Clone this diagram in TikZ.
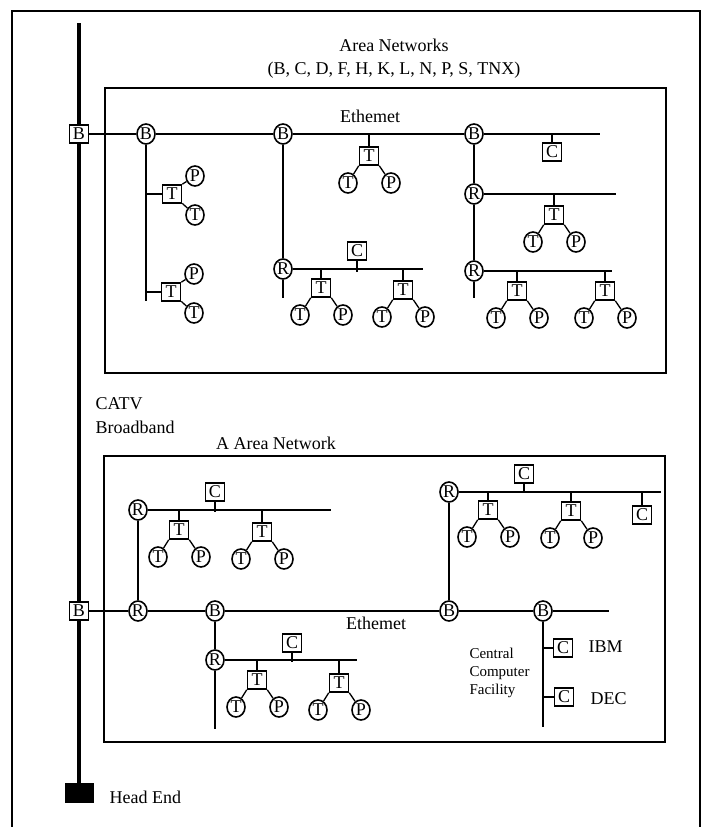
\documentclass[tikz,border=0pt]{standalone}
\usepackage{fontspec}
\setmainfont{Liberation Serif}
\usetikzlibrary{shapes.geometric}

\begin{document}
\begin{tikzpicture}[x=1pt,y=-1pt,
		font=\fontsize{18}{21}\selectfont,
		wire/.style={line width=1.3pt},
		frame/.style={line width=1.4pt},
		sq/.style={draw, line width=1.6pt, fill=white, inner sep=0pt, minimum width=19pt, minimum height=18pt},
		rnd/.style={draw, ellipse, line width=1.6pt, fill=white, inner sep=0pt, minimum width=18pt, minimum height=20pt}]
	\useasboundingbox (0,0) rectangle (713,827);
	\draw[frame] (12,827) -- (12,11) -- (700,11) -- (700,827);
	\draw[frame] (105,88) rectangle (666,373);
	\draw[frame] (104,456) rectangle (665,742);

	% broadband backbone
	\node[fill=black, inner sep=0pt, minimum width=29pt, minimum height=20pt] (head) at (79,793) {};
	\coordinate (top) at (79,23);
	\draw[line width=4pt] (top) -- (head);
	\node[anchor=west] (headlbl) at (106,797) {Head End};
	\node[anchor=west] (catv) at (92,404) {CATV};
	\node[anchor=west] (bband) at (92,427) {Broadband};

	% area networks
	\node (title) at (394,45) {Area Networks};
	\node (members) at (394,70) {(B, C, D, F, H, K, L, N, P, S, TNX)};
	\node (eth1) at (370,116) {Ethemet};
	\node[sq] (bb1) at (79,134) {B};
	\node[rnd] (b1) at (146,134) {B};
	\node[rnd] (b2) at (283,134) {B};
	\node[rnd] (b3) at (474,134) {B};
	\coordinate (e1) at (600,134);
	\draw[wire] (bb1) -- (b1) -- (b2) -- (b3) -- (e1);
	\coordinate (v1) at (146,301);
	\draw[wire] (b1) -- (v1);
	\node[rnd] (r1) at (283,269) {R};
	\coordinate (v2) at (283,298);
	\coordinate (e2) at (423,269);
	\draw[wire] (b2) -- (r1) -- (v2);
	\draw[wire] (r1) -- (e2);
	\node[sq] (c1) at (357,251) {C};
	\draw[wire] (c1.south) -- ([yshift=-3pt]c1.south |- r1);
	\node[rnd] (r2) at (474,194) {R};
	\node[rnd] (r3) at (474,271) {R};
	\coordinate (v3) at (474,298);
	\coordinate (e3) at (616,194);
	\coordinate (e4) at (612,271);
	\draw[wire] (b3) -- (r2) -- (r3) -- (v3);
	\draw[wire] (r2) -- (e3);
	\draw[wire] (r3) -- (e4);
	\node[sq] (c2) at (552,152) {C};
	\draw[wire] (c2.north) -- (c2.north |- b3);

	% side terminals
	\foreach \n/\x/\y in {13/172/194, 14/171/292} {
		\node[sq] (tb\n) at (\x,\y) {T};
		\node[rnd] (tp\n) at (\x+23,\y-18) {P};
		\node[rnd] (tt\n) at (\x+23,\y+21) {T};
		\draw[wire] (tb\n.west) -- (tb\n.west -| b1);
		\draw[wire] (tb\n.north east) -- (tp\n);
		\draw[wire] (tb\n) -- (tt\n);
	}

	% A area network
	\node (aname) at (276,443) {A Area Network};
	\node (eth2) at (376,623) {Ethemet};
	\node[sq] (bb2) at (79,611) {B};
	\node[rnd] (r4) at (138,611) {R};
	\node[rnd] (b4) at (215,611) {B};
	\node[rnd] (b5) at (449,611) {B};
	\node[rnd] (b6) at (543,611) {B};
	\coordinate (e5) at (609,611);
	\draw[wire] (bb2) -- (r4) -- (b4) -- (b5) -- (b6) -- (e5);
	\node[rnd] (r5) at (138,510) {R};
	\coordinate (e6) at (331,510);
	\draw[wire] (r4) -- (r5) -- (e6);
	\node[sq] (c3) at (215,492) {C};
	\draw[wire] (c3.south) -- ([yshift=-2pt]c3.south |- r5);
	\node[rnd] (r6) at (215,660) {R};
	\coordinate (v4) at (215,729);
	\coordinate (e7) at (357,660);
	\draw[wire] (b4) -- (r6) -- (v4);
	\draw[wire] (r6) -- (e7);
	\node[sq] (c4) at (292,643) {C};
	\draw[wire] (c4.south) -- ([yshift=-2pt]c4.south |- r6);
	\node[rnd] (r7) at (449,492) {R};
	\coordinate (e8) at (661,492);
	\draw[wire] (b5) -- (r7) -- (e8);
	\node[sq] (c5) at (524,474) {C};
	\draw[wire] (c5.south) -- (c5.south |- r7);
	\node[sq] (c6) at (642,515) {C};
	\draw[wire] (c6.north) -- (c6.north |- r7);

	% central computer facility
	\coordinate (v5) at (543,727);
	\draw[wire] (b6) -- (v5);
	\node[sq] (ibm) at (563,648) {C};
	\node[sq] (dec) at (564,697) {C};
	\draw[wire] (ibm.west) -- (ibm.west -| b6);
	\draw[wire] (dec.west) -- (dec.west -| b6);
	\node[anchor=west] (ibmlbl) at (585,647) {IBM};
	\node[anchor=west] (declbl) at (587,699) {DEC};
	\node[anchor=west, align=left, font=\fontsize{15}{18}\selectfont] (ccf) at (466,673) {Central\\Computer\\Facility};

	% terminal clusters
	\foreach \n/\x/\y/\bus in {1/369/156/134, 2/321/288/269, 3/403/290/269,
			4/554/215/194, 5/517/291/271, 6/605/291/271, 7/179/530/510,
			8/262/532/510, 9/488/510/492, 10/571/511/492, 11/257/680/660,
			12/339/683/660} {
		\node[sq] (tb\n) at (\x,\y) {T};
		\node[rnd] (tt\n) at (\x-21,\y+27) {T};
		\node[rnd] (tp\n) at (\x+22,\y+27) {P};
		\coordinate (tk\n) at (\x,\bus);
		\draw[wire] (tb\n.north) -- (tk\n);
		\draw[wire] (tb\n.south west) -- (tt\n);
		\draw[wire] (tb\n.south east) -- (tp\n);
	}
\end{tikzpicture}
\end{document}
